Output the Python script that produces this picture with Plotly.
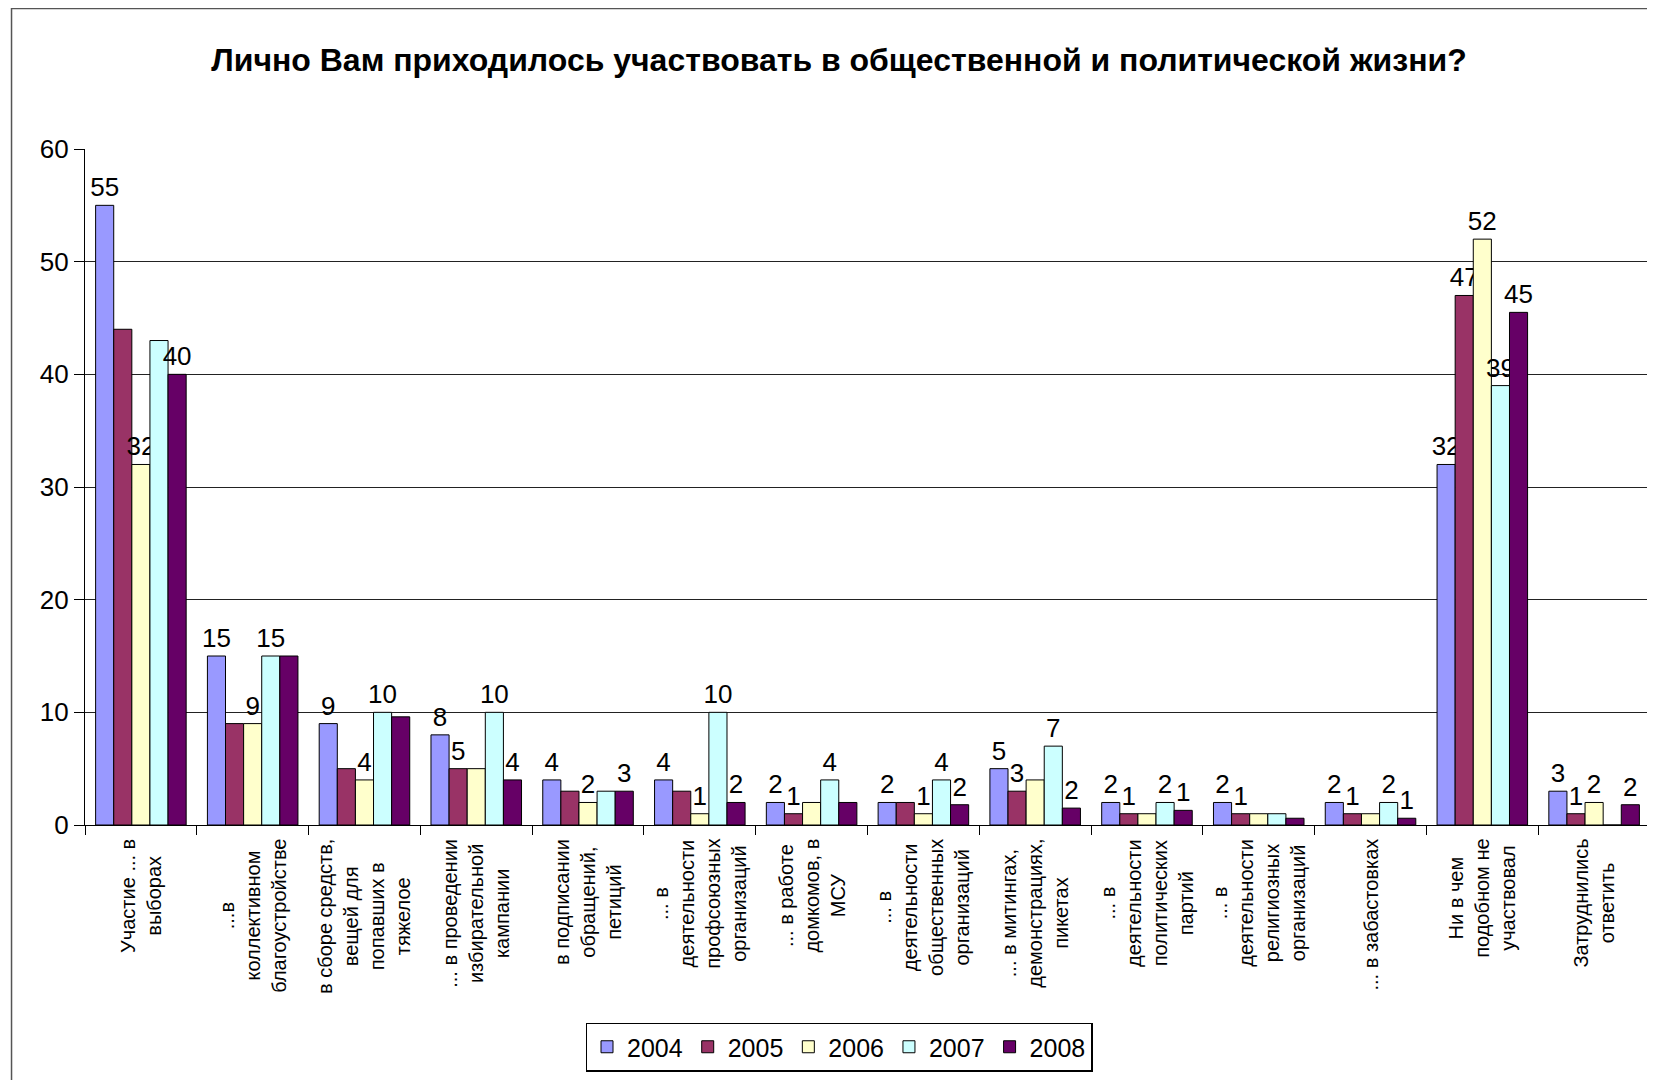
import plotly.graph_objects as go

categories = [
    "Участие ... в<br>выборах",
    "...в<br>коллективном<br>благоустройстве",
    "в сборе средств,<br>вещей для<br>попавших в<br>тяжелое",
    "... в проведении<br>избирательной<br>кампании",
    "в подписании<br>обращений,<br>петиций",
    "... в<br>деятельности<br>профсоюзных<br>организаций",
    "... в работе<br>домкомов, в<br>МСУ",
    "... в<br>деятельности<br>общественных<br>организаций",
    "... в митингах,<br>демонстрациях,<br>пикетах",
    "... в<br>деятельности<br>политических<br>партий",
    "... в<br>деятельности<br>религиозных<br>организаций",
    "... в забастовках",
    "Ни в чем<br>подобном не<br>участвовал",
    "Затруднились<br>ответить",
]
cat_keys = [f"c{i}" for i in range(len(categories))]

years = ["2004", "2005", "2006", "2007", "2008"]
v2004 = [55, 15, 9, 8, 4, 4, 2, 2, 5, 2, 2, 2, 32, 3]
v2005 = [44, 9, 5, 5, 3, 3, 1, 2, 3, 1, 1, 1, 47, 1]
v2006 = [32, 9, 4, 5, 2, 1, 2, 1, 4, 1, 1, 1, 52, 2]
v2007 = [43, 15, 10, 10, 3, 10, 4, 4, 7, 2, 1, 2, 39, 0]
v2008 = [40, 15, 9.6, 4, 3, 2, 2, 1.8, 1.5, 1.3, 0.6, 0.6, 45.5, 1.8]

# data labels as shown in the reference (blank where none is shown)
t2004 = ["55", "15", "9", "8", "4", "4", "2", "2", "5", "2", "2", "2", "32", "3"]
t2005 = ["", "", "", "5", "", "", "1", "", "3", "1", "1", "1", "47", "1"]
t2006 = ["32", "9", "4", "", "2", "1", "", "1", "", "", "", "", "52", "2"]
t2007 = ["", "15", "10", "10", "", "10", "4", "4", "7", "2", "", "2", "39", ""]
t2008 = ["40", "", "", "4", "3", "2", "", "2", "2", "1", "", "1", "45", "2"]

values = [v2004, v2005, v2006, v2007, v2008]
texts = [t2004, t2005, t2006, t2007, t2008]
colors = ["#9999FF", "#993366", "#FFFFCC", "#CCFFFF", "#660066"]

FONT = "Liberation Sans, Arial, sans-serif"

fig = go.Figure()
for yr, vals, txt, col in zip(years, values, texts, colors):
    fig.add_trace(go.Bar(
        name=yr, x=cat_keys, y=vals, text=txt,
        textposition="outside", cliponaxis=False, constraintext="none",
        textfont=dict(family=FONT, size=26, color="black"),
        marker=dict(color=col, line=dict(color="black", width=1)),
        hoverinfo="skip",
    ))

# page has an 8px body margin; figure coordinates = page - 8
OFF = 8
W, H = 1655 - OFF, 1080 - OFF
L, R, T, B = 84.5 - OFF, 5, 149 - OFF, 254.5
ph = H - T - B
pw = W - L - R

annotations = []
for k, lab in zip(cat_keys, categories):
    annotations.append(dict(
        x=k, xref="x", y=-12 / ph, yref="paper",
        text=lab, showarrow=False, textangle=-90,
        xanchor="center", yanchor="top", align="center",
        font=dict(family=FONT, size=20, color="black"),
    ))

fig.update_layout(
    width=W, height=H,
    margin=dict(l=L, r=R, t=T, b=B, pad=0),
    paper_bgcolor="white", plot_bgcolor="white",
    barmode="group", bargap=0.19, bargroupgap=0,
    title=dict(
        text="<b>Лично Вам приходилось участвовать в общественной и политической жизни?</b>",
        x=(839 - OFF) / W, xref="container", xanchor="center",
        y=1 - (60 - OFF) / H, yref="container", yanchor="middle",
        font=dict(family=FONT, size=32, color="black"),
    ),
    xaxis=dict(
        type="category", tickson="boundaries", ticks="outside", ticklen=9,
        tickcolor="black", showticklabels=False, showgrid=False,
        showline=True, linecolor="black", linewidth=1.2,
        range=[-0.5, len(categories) - 0.5],
    ),
    yaxis=dict(
        range=[0, 60], dtick=10, ticks="outside", ticklen=10,
        tickcolor="black", showline=True, linecolor="black", linewidth=1.2,
        showgrid=True, gridcolor="#222222", gridwidth=1.2,
        tickfont=dict(family=FONT, size=26, color="black"),
        zeroline=False,
    ),
    legend=dict(
        orientation="h", x=(839 - OFF) / W, xref="container", xanchor="center",
        y=(H - (1047 - OFF)) / H, yref="container", yanchor="middle",
        bordercolor="black", borderwidth=1.5, bgcolor="white",
        font=dict(family=FONT, size=25, color="black"),
        itemwidth=30, tracegroupgap=0,
    ),
    annotations=annotations,
    showlegend=True,
)

# outer chart frame
fig.add_shape(type="rect", xref="paper", yref="paper",
              x0=(11 - OFF - L) / pw, x1=(1652 - OFF - L) / pw,
              y0=(H - B - 1100) / ph, y1=(H - B - (8.5 - OFF)) / ph,
              line=dict(color="#555555", width=1.5), layer="below")

fig.write_html("out.html")
